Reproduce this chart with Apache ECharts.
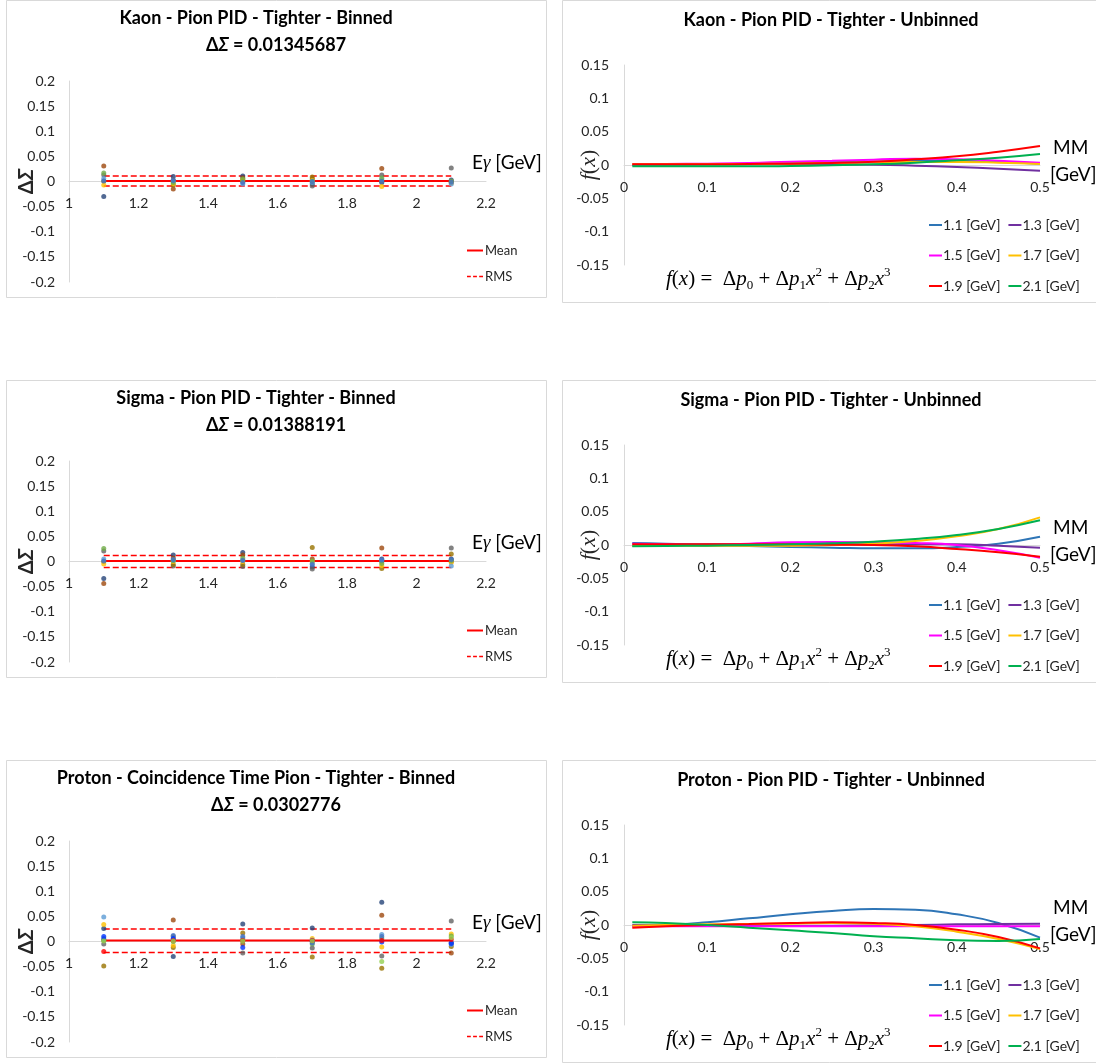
<!DOCTYPE html>
<html>
<head>
<meta charset="utf-8">
<script src="https://cdn.jsdelivr.net/npm/echarts@6/dist/echarts.min.js"></script>
<style>
html, body { margin: 0; padding: 0; background: #fff; }
#main { width: 1096px; height: 1063px; }
</style>
</head>
<body>
<div id="main"></div>
<script>
// photon energy bins [GeV]
const energies = [1.1, 1.3, 1.5, 1.7, 1.9, 2.1];
const pointColors = ['#264478', '#9E480E', '#636363', '#997300', '#FFC000', '#5B9BD5', '#70AD47', '#4472C4', '#0033FF', '#FF0000', '#92D050'];

// binned ΔΣ, one row per colour, values at each energy
const kaonBinned = [
    [-0.030, 0.010, 0.011, -0.005, -0.002, 0.003],
    [0.031, -0.015, 0.007, 0.005, 0.026, -0.002],
    [0.013, 0.003, 0.000, -0.009, 0.013, 0.027],
    [0.001, -0.007, 0.002, 0.009, 0.001, 0.000],
    [-0.007, -0.004, 0.003, 0.002, -0.010, -0.003],
    [0.006, 0.000, -0.005, -0.002, 0.004, -0.005],
    [0.017, -0.002, 0.005, 0.001, 0.007, 0.001],
    [0.001, 0.002, -0.002, 0.000, 0.000, -0.001]
];
const sigmaBinned = [
    [-0.034, 0.013, 0.018, -0.011, 0.005, 0.005],
    [-0.044, 0.007, 0.013, 0.005, 0.027, 0.000],
    [0.021, -0.009, -0.010, -0.015, 0.000, 0.027],
    [0.000, -0.006, -0.006, 0.028, -0.014, 0.015],
    [-0.005, 0.000, 0.000, 0.000, -0.008, -0.002],
    [0.005, 0.002, 0.003, -0.004, 0.002, -0.009],
    [0.026, 0.002, 0.007, 0.001, -0.004, 0.002],
    [0.001, 0.004, 0.002, -0.006, 0.003, 0.004]
];
const protonBinned = [
    [0.026, -0.030, 0.035, 0.027, 0.078, -0.003],
    [0.003, 0.043, -0.005, 0.000, 0.052, -0.023],
    [-0.005, 0.010, -0.023, -0.013, -0.029, 0.041],
    [-0.049, -0.012, 0.017, -0.031, -0.053, -0.010],
    [0.034, -0.008, 0.004, 0.006, -0.011, 0.015],
    [0.049, 0.005, 0.007, 0.003, 0.014, -0.006],
    [0.003, 0.000, 0.001, -0.005, 0.006, 0.011],
    [0.006, 0.012, 0.010, -0.003, 0.010, -0.002],
    [0.010, 0.006, -0.012, 0.001, -0.001, -0.004],
    [-0.020, 0.002, 0.002, 0.002, 0.002, 0.004],
    [0.001, 0.001, 0.001, 0.001, -0.040, 0.008]
];
const binnedMean = [0.001, 0.001, 0.002];
const binnedUpper = [0.011, 0.012, 0.025];
const binnedLower = [-0.009, -0.012, -0.022];
const binnedTitles = ['Kaon - Pion PID - Tighter - Binned', 'Sigma - Pion PID - Tighter - Binned', 'Proton - Coincidence Time Pion - Tighter - Binned'];
const deltaSigma = ['0.01345687', '0.01388191', '0.0302776'];

// unbinned fit curves f(x) vs MM
const mmX = [0.01, 0.05, 0.1, 0.15, 0.2, 0.25, 0.3, 0.35, 0.4, 0.45, 0.5];
const fitNames = ['1.1 [GeV]', '1.3 [GeV]', '1.5 [GeV]', '1.7 [GeV]', '1.9 [GeV]', '2.1 [GeV]'];
const fitColors = ['#2E75B6', '#7030A0', '#FF00FF', '#FFC000', '#FF0000', '#00B050'];
const kaonFits = [
    [0.000, 0.0005, 0.001, 0.002, 0.003, 0.004, 0.005, 0.006, 0.006, 0.0045, 0.002],
    [0.000, 0.0005, 0.001, 0.0015, 0.0015, 0.001, 0.0005, -0.001, -0.003, -0.0055, -0.0085],
    [0.001, 0.0015, 0.002, 0.003, 0.005, 0.0065, 0.008, 0.0095, 0.0085, 0.0065, 0.0035],
    [0.001, 0.001, 0.001, 0.0015, 0.002, 0.003, 0.004, 0.0045, 0.0045, 0.0035, 0.0015],
    [0.001, 0.001, 0.001, 0.0015, 0.002, 0.003, 0.005, 0.0085, 0.013, 0.020, 0.0285],
    [-0.002, -0.002, -0.002, -0.002, -0.0015, -0.0005, 0.001, 0.0035, 0.007, 0.011, 0.0165]
];
const sigmaFits = [
    [0.003, 0.002, 0.000, -0.0015, -0.003, -0.004, -0.005, -0.005, -0.003, 0.002, 0.0125],
    [-0.001, 0.000, 0.001, 0.001, 0.001, 0.001, 0.001, 0.001, 0.001, -0.001, -0.004],
    [0.002, 0.001, 0.000, 0.002, 0.004, 0.0045, 0.004, 0.003, 0.000, -0.008, -0.019],
    [-0.001, -0.001, -0.001, -0.001, -0.001, 0.000, 0.002, 0.006, 0.013, 0.024, 0.0415],
    [0.001, 0.001, 0.001, 0.001, 0.001, 0.0005, 0.000, -0.002, -0.006, -0.011, -0.0175],
    [-0.002, -0.0015, -0.001, 0.000, 0.001, 0.0025, 0.005, 0.009, 0.015, 0.024, 0.037]
];
const protonFits = [
    [-0.002, -0.0005, 0.004, 0.010, 0.016, 0.021, 0.024, 0.023, 0.016, 0.003, -0.019],
    [0.000, -0.0005, -0.001, -0.001, -0.001, -0.001, -0.0005, 0.000, 0.001, 0.0015, 0.002],
    [-0.002, -0.002, -0.002, -0.002, -0.002, -0.002, -0.002, -0.002, -0.002, -0.002, -0.002],
    [-0.001, 0.000, 0.001, 0.0015, 0.002, 0.003, 0.002, -0.002, -0.010, -0.021, -0.036],
    [-0.004, -0.002, 0.000, 0.0015, 0.003, 0.004, 0.003, 0.000, -0.007, -0.018, -0.035],
    [0.004, 0.003, 0.000, -0.004, -0.008, -0.012, -0.017, -0.020, -0.023, -0.024, -0.021]
];

const FONT = 'Lato, "Noto Sans", sans-serif';
const SERIF = '"Liberation Serif", "DejaVu Serif", serif';
const TEXT = '#262626';
const AXIS = '#d9d9d9';
const rowTop = [0, 380, 760];
const dashIcon = 'path://M0,0h5v2h-5z M8,0h5v2h-5z M16,0h5v2h-5z';

let chart = echarts.init(document.getElementById('main'));

let grids = [], xAxes = [], yAxes = [], series = [], legends = [], graphics = [];

function axisLabel(margin) {
    return {margin: margin, fontSize: 14, color: TEXT, fontFamily: FONT};
}

[kaonBinned, sigmaBinned, protonBinned].forEach(function (rows, p) {
    let T = rowTop[p];
    let g = 2 * p;
    // binned panel
    grids[g] = {left: 69, top: T + 81, width: 417, height: 201};
    xAxes[g] = {
        gridIndex: g, type: 'value', min: 1, max: 2.2, interval: 0.2,
        position: 'bottom', offset: -100.5,
        axisLine: {onZero: false, lineStyle: {color: AXIS, width: 1}},
        axisTick: {show: false}, splitLine: {show: false}, axisLabel: axisLabel(15)
    };
    yAxes[g] = {
        gridIndex: g, type: 'value', min: -0.2, max: 0.2, interval: 0.05,
        axisLine: {show: true, lineStyle: {color: AXIS, width: 1}},
        axisTick: {show: false}, splitLine: {show: false}, axisLabel: axisLabel(14),
        name: '{d|Δ}{s|Σ}', nameLocation: 'middle', nameGap: 32, nameRotate: 90, nameMoveOverlap: false,
        nameTextStyle: {
            rich: {
                d: {fontSize: 20, fontWeight: 'bold', color: TEXT, fontFamily: FONT},
                s: {fontSize: 20, fontWeight: 'bold', fontStyle: 'italic', color: TEXT, fontFamily: FONT}
            }
        }
    };
    rows.forEach(function (vals, i) {
        series.push({
            type: 'scatter', xAxisIndex: g, yAxisIndex: g, symbolSize: 5, z: 4,
            itemStyle: {color: pointColors[i]},
            data: energies.map(function (e, k) { return [e, vals[k]]; })
        });
    });
    let first = energies[0], last = energies[energies.length - 1];
    series.push({
        type: 'line', name: 'Mean', xAxisIndex: g, yAxisIndex: g, symbol: 'none', z: 3,
        lineStyle: {color: '#FF0000', width: 2}, itemStyle: {color: '#FF0000'},
        data: [[first, binnedMean[p]], [last, binnedMean[p]]]
    });
    [binnedUpper[p], binnedLower[p]].forEach(function (v) {
        series.push({
            type: 'line', name: 'RMS', xAxisIndex: g, yAxisIndex: g, symbol: 'none', z: 3,
            lineStyle: {color: '#FF0000', width: 1.5, type: [6, 3]}, itemStyle: {color: '#FF0000'},
            data: [[first, v], [last, v]]
        });
    });
    legends.push({
        left: 467, top: T + 244, padding: 0, itemWidth: 16, itemHeight: 2, selectedMode: false,
        data: [{name: 'Mean', icon: 'rect'}],
        textStyle: {fontSize: 13, color: TEXT, fontFamily: FONT, padding: [0, 0, 0, -3]}
    });
    legends.push({
        left: 467, top: T + 270, padding: 0, itemWidth: 16, itemHeight: 2, selectedMode: false,
        data: [{name: 'RMS', icon: dashIcon}],
        textStyle: {fontSize: 13, color: TEXT, fontFamily: FONT, padding: [0, 0, 0, -3]}
    });
    graphics.push({
        type: 'rect', silent: true, shape: {x: 6.5, y: T + 0.5, width: 540, height: 297},
        style: {fill: 'none', stroke: AXIS, lineWidth: 1}
    });
    graphics.push({
        type: 'text', x: 256, y: T + 18, silent: true,
        style: {text: binnedTitles[p], font: 'bold 18px ' + FONT, fill: '#000', align: 'center', verticalAlign: 'middle'}
    });
    graphics.push({
        type: 'text', x: 276, y: T + 45, silent: true,
        style: {
            text: '{n|Δ}{i|Σ}{n| = ' + deltaSigma[p] + '}', align: 'center', verticalAlign: 'middle',
            rich: {
                n: {fontSize: 18, fontWeight: 'bold', fontFamily: FONT, fill: '#000'},
                i: {fontSize: 18, fontWeight: 'bold', fontStyle: 'italic', fontFamily: FONT, fill: '#000'}
            }
        }
    });
    graphics.push({
        type: 'text', x: 472, y: T + 163, silent: true,
        style: {
            text: '{n|E}{g|γ}{n| [GeV]}', verticalAlign: 'middle',
            rich: {
                n: {fontSize: 19, fontFamily: FONT, fill: '#000'},
                g: {fontSize: 19, fontStyle: 'italic', fontFamily: SERIF, fill: '#000'}
            }
        }
    });
});

[kaonFits, sigmaFits, protonFits].forEach(function (fits, p) {
    let T = rowTop[p];
    let g = 2 * p + 1;
    grids[g] = {left: 624, top: T + 65, width: 416, height: 200};
    xAxes[g] = {
        gridIndex: g, type: 'value', min: 0, max: 0.5, interval: 0.1,
        position: 'bottom', offset: -100,
        axisLine: {onZero: false, lineStyle: {color: AXIS, width: 1}},
        axisTick: {show: false}, splitLine: {show: false}, axisLabel: axisLabel(15)
    };
    yAxes[g] = {
        gridIndex: g, type: 'value', min: -0.15, max: 0.15, interval: 0.05,
        axisLine: {show: true, lineStyle: {color: AXIS, width: 1}},
        axisTick: {show: false}, splitLine: {show: false}, axisLabel: axisLabel(15),
        name: '{i|f}{n|(}{i|x}{n|)}', nameLocation: 'middle', nameGap: 24, nameRotate: 90, nameMoveOverlap: false,
        nameTextStyle: {
            rich: {
                i: {fontSize: 22, fontStyle: 'italic', color: TEXT, fontFamily: SERIF},
                n: {fontSize: 22, color: TEXT, fontFamily: SERIF}
            }
        }
    };
    fits.forEach(function (vals, i) {
        series.push({
            type: 'line', name: fitNames[i], xAxisIndex: g, yAxisIndex: g, smooth: true,
            symbol: 'none', lineStyle: {color: fitColors[i], width: 2}, itemStyle: {color: fitColors[i]},
            data: mmX.map(function (x, k) { return [x, vals[k]]; })
        });
    });
    [[0, 1], [2, 3], [4, 5]].forEach(function (pair, r) {
        legends.push({
            orient: 'horizontal', left: 929, top: T + 218 + r * 30.5, padding: 0, itemGap: 8, itemWidth: 13, itemHeight: 2,
            data: [{name: fitNames[pair[0]], icon: 'rect'}, {name: fitNames[pair[1]], icon: 'rect'}],
            selectedMode: false,
            textStyle: {fontSize: 14, color: TEXT, fontFamily: FONT, padding: [0, 0, 0, -4]}
        });
    });
    graphics.push({
        type: 'rect', silent: true, shape: {x: 562.5, y: T + 0.5, width: 545, height: 302},
        style: {fill: 'none', stroke: AXIS, lineWidth: 1}
    });
    graphics.push({
        type: 'text', x: 831, y: T + 20, silent: true,
        style: {text: ['Kaon', 'Sigma', 'Proton'][p] + ' - Pion PID - Tighter - Unbinned', font: 'bold 18px ' + FONT, fill: '#000', align: 'center', verticalAlign: 'middle'}
    });
    graphics.push({
        type: 'text', x: 1053, y: T + 148, silent: true,
        style: {text: 'MM', font: '19px ' + FONT, fill: '#000', verticalAlign: 'middle'}
    });
    graphics.push({
        type: 'text', x: 1050, y: T + 175, silent: true,
        style: {text: '[GeV]', font: '19px ' + FONT, fill: '#000', verticalAlign: 'middle'}
    });
    graphics.push({
        type: 'text', x: 666, y: T + 279, silent: true,
        style: {
            text: '{i|f}{n|(}{i|x}{n|) =  Δ}{i|p}{s|0}{n| + Δ}{i|p}{s|1}{i|x}{u|2}{n| + Δ}{i|p}{s|2}{i|x}{u|3}',
            verticalAlign: 'middle',
            rich: {
                i: {fontSize: 21, lineHeight: 26, fontStyle: 'italic', fontFamily: SERIF, fill: '#000'},
                n: {fontSize: 21, lineHeight: 26, fontFamily: SERIF, fill: '#000'},
                s: {fontSize: 13, lineHeight: 11, verticalAlign: 'bottom', fontFamily: SERIF, fill: '#000'},
                u: {fontSize: 13, lineHeight: 13, verticalAlign: 'top', fontFamily: SERIF, fill: '#000'}
            }
        }
    });
});

let option = {
    animation: false,
    backgroundColor: '#fff',
    grid: grids,
    xAxis: xAxes,
    yAxis: yAxes,
    legend: legends,
    series: series,
    graphic: graphics
};

chart.setOption(option);
</script>
</body>
</html>
